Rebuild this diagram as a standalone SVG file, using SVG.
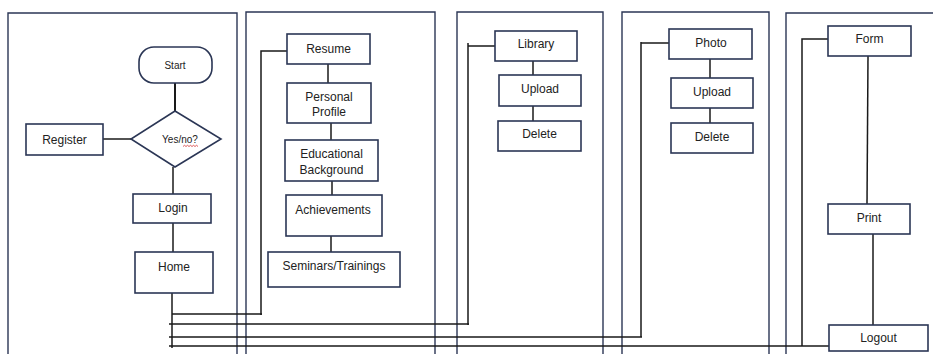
<svg xmlns="http://www.w3.org/2000/svg" width="933" height="354" viewBox="0 0 933 354">
<style>
.panel{fill:none;stroke:#2b3655;stroke-width:1.4}
.box{fill:#fff;stroke:#2b3655;stroke-width:1.6}
.ln{fill:none;stroke:#1a1a1a;stroke-width:1.5}
.t{font-family:"Liberation Sans",Arial,sans-serif;font-size:12px;fill:#222;text-anchor:middle}
.s{font-size:10px}
</style>
<rect width="933" height="354" fill="#fff"/>
<g id="panels">
<path class="panel" d="M8,354V13H237V354"/>
<path class="panel" d="M246,354V12H435V354"/>
<path class="panel" d="M457,354V12H603V354"/>
<path class="panel" d="M622,354V12H769V354"/>
<path class="panel" d="M786,354V13H940"/>
</g>
<g id="connectors">
<path class="ln" d="M175,83V111" style="stroke-width:2"/>
<path class="ln" d="M103,139H131"/>
<path class="ln" d="M173,167V194"/>
<path class="ln" d="M173,223V252"/>
<path class="ln" d="M172,293V348"/>
<path class="ln" d="M172,314H262M261,315V51H287"/>
<path class="ln" d="M169,324H469M468,325V43M468,46H495"/>
<path class="ln" d="M169,337H642M641,337V42M641,43H672"/>
<path class="ln" d="M169,346H829M802,346V39H828"/>
<path class="ln" d="M328,64V83"/>
<path class="ln" d="M331,123V140"/>
<path class="ln" d="M332,181V195"/>
<path class="ln" d="M331,231V252"/>
<path class="ln" d="M533,61V75"/>
<path class="ln" d="M533,103V121"/>
<path class="ln" d="M710,59V78"/>
<path class="ln" d="M710,106V125"/>
<path class="ln" d="M868,56L867,204"/>
<path class="ln" d="M873,234V325"/>
</g>
<g id="start"><rect class="box" x="139" y="47" width="73" height="36" rx="15"/><text class="t s" x="175" y="69">Start</text></g>
<g id="decision"><polygon class="box" points="175,111 221,139 175,167 131,139"/><text class="t s" x="180" y="143">Yes/no?</text><path d="M183,146.5l1.5,-1.2l1.5,1.2l1.5,-1.2l1.5,1.2l1.5,-1.2l1.5,1.2l1.5,-1.2l1.5,1.2l1.5,-1.2l1.5,1.2" fill="none" stroke="#d03030" stroke-width="0.8"/></g>
<g id="register"><rect class="box" x="26" y="124" width="77" height="31"/><text class="t" x="64.5" y="143.5">Register</text></g>
<g id="login"><rect class="box" x="133" y="194" width="78" height="29"/><text class="t" x="173" y="211.5">Login</text></g>
<g id="home"><rect class="box" x="135" y="252" width="78" height="41"/><text class="t" x="174" y="271">Home</text></g>
<g id="resume"><rect class="box" x="287" y="34" width="83" height="30"/><text class="t" x="328.5" y="52.5">Resume</text></g>
<g id="profile"><rect class="box" x="287" y="83" width="84" height="40"/><text class="t" x="329" y="101">Personal</text><text class="t" x="329" y="116">Profile</text></g>
<g id="education"><rect class="box" x="285" y="140" width="93" height="41"/><text class="t" x="331.5" y="158">Educational</text><text class="t" x="331.5" y="173.5">Background</text></g>
<g id="achievements"><rect class="box" x="286" y="195" width="96" height="41"/><text class="t" x="333" y="214">Achievements</text></g>
<g id="seminars"><rect class="box" x="268" y="252" width="132" height="35"/><text class="t" x="334" y="270">Seminars/Trainings</text></g>
<g id="library"><rect class="box" x="495" y="31" width="82" height="30"/><text class="t" x="536" y="48">Library</text></g>
<g id="lib-upload"><rect class="box" x="499" y="75" width="82" height="31"/><text class="t" x="540" y="93">Upload</text></g>
<g id="lib-delete"><rect class="box" x="498" y="121" width="83" height="30"/><text class="t" x="539.5" y="138">Delete</text></g>
<g id="photo"><rect class="box" x="669" y="29" width="83" height="30"/><text class="t" x="711" y="47">Photo</text></g>
<g id="photo-upload"><rect class="box" x="671" y="78" width="82" height="30"/><text class="t" x="712" y="96">Upload</text></g>
<g id="photo-delete"><rect class="box" x="671" y="123" width="82" height="30"/><text class="t" x="712" y="141">Delete</text></g>
<g id="form"><rect class="box" x="828" y="26" width="83" height="30"/><text class="t" x="869.5" y="43">Form</text></g>
<g id="print"><rect class="box" x="828" y="204" width="82" height="30"/><text class="t" x="869" y="222">Print</text></g>
<g id="logout"><rect class="box" x="829" y="325" width="99" height="26"/><text class="t" x="878.5" y="342">Logout</text></g>
</svg>
